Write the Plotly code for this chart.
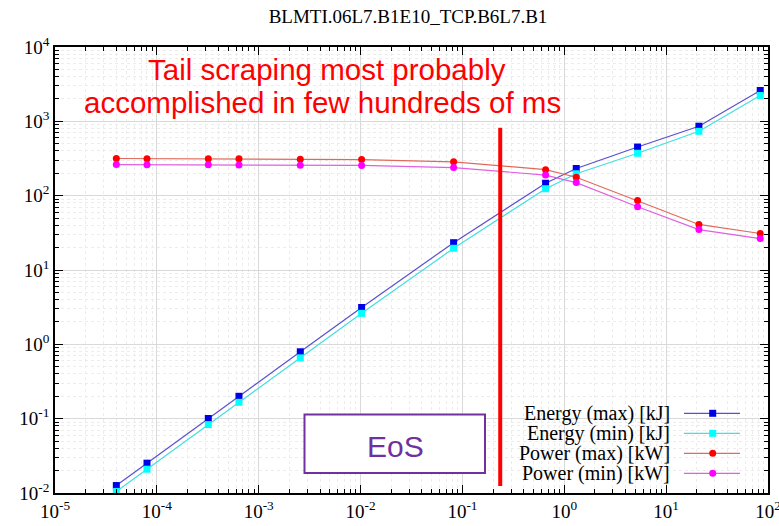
import plotly.graph_objects as go

# ---------------- data ----------------
time_s = [4e-5, 8e-5, 3.2e-4, 6.4e-4, 2.56e-3, 1.024e-2, 8.192e-2, 0.65536, 1.31072, 5.24288, 20.97152, 83.88608]
energy_max_kJ = [0.0126, 0.0252, 0.1005, 0.200, 0.794, 3.13, 23.3, 147, 232, 451, 860, 2600]
energy_min_kJ = [0.0105, 0.0209, 0.0832, 0.166, 0.658, 2.61, 19.6, 124, 197, 372, 734, 2223]
power_max_kW = [316, 315, 314, 313, 310, 306, 285, 224, 177, 86, 41, 31]
power_min_kW = [262, 261, 260, 259, 257, 255, 239, 189, 150, 71, 35, 26.5]

series_names = ["Energy (max) [kJ]", "Energy (min) [kJ]", "Power (max) [kW]", "Power (min) [kW]"]
eos_time_s = 0.235
eos_line_y = [817, 0.0124]

x_tick_vals = [1e-5, 1e-4, 1e-3, 1e-2, 1e-1, 1e0, 1e1, 1e2]
x_tick_text = ["10<sup>-5</sup>", "10<sup>-4</sup>", "10<sup>-3</sup>", "10<sup>-2</sup>",
               "10<sup>-1</sup>", "10<sup>0</sup>", "10<sup>1</sup>", "10<sup>2</sup>"]
y_tick_vals = [1e-2, 1e-1, 1e0, 1e1, 1e2, 1e3, 1e4]
y_tick_text = ["10<sup>-2</sup>", "10<sup>-1</sup>", "10<sup>0</sup>", "10<sup>1</sup>",
               "10<sup>2</sup>", "10<sup>3</sup>", "10<sup>4</sup>"]

title_text = "BLMTI.06L7.B1E10_TCP.B6L7.B1"
note_line1 = "Tail scraping most probably"
note_line2 = "accomplished in few hundreds of ms"
eos_text = "EoS"

# ---------------- styles ----------------
styles = [
    dict(line="#5a4fcf", marker="#0000e6", symbol="square"),
    dict(line="#40e0e0", marker="#00ffff", symbol="square"),
    dict(line="#e06a5a", marker="#ff0000", symbol="circle"),
    dict(line="#e060e0", marker="#ff00ff", symbol="circle"),
]
series_values = [energy_max_kJ, energy_min_kJ, power_max_kW, power_min_kW]

SERIF = "Liberation Serif, Times New Roman, serif"
SANS = "Liberation Sans, Arial, sans-serif"

fig = go.Figure()
for name, vals, st in zip(series_names, series_values, styles):
    fig.add_trace(go.Scatter(
        x=time_s, y=vals, name=name, mode="lines+markers",
        line=dict(color=st["line"], width=1.2),
        marker=dict(color=st["marker"], symbol=st["symbol"], size=7, line=dict(width=0)),
        showlegend=False,
    ))

# red vertical line
fig.add_trace(go.Scatter(
    x=[eos_time_s, eos_time_s], y=eos_line_y, mode="lines",
    line=dict(color="#ff0000", width=4), showlegend=False, hoverinfo="skip",
))

# plot area in pixels: left 55, right 768, top 47, bottom 493
L, R, T, B = 55, 768, 47, 493
W, H = R - L, B - T

def px(x):
    return (x - L) / W

def py(y):
    return (B - y) / H

shapes = []
annotations = []

# EoS box
shapes.append(dict(type="rect", xref="paper", yref="paper",
                   x0=px(304.5), x1=px(485), y0=py(473), y1=py(414.5),
                   line=dict(color="#7030a0", width=2), fillcolor="white", layer="above"))
annotations.append(dict(text=eos_text, xref="paper", yref="paper", x=px(395), y=py(446),
                        xanchor="center", yanchor="middle", showarrow=False,
                        font=dict(family=SANS, size=30, color="#7030a0")))

# red note
annotations.append(dict(text=note_line1, xref="paper", yref="paper", x=px(327), y=py(69),
                        xanchor="center", yanchor="middle", showarrow=False,
                        font=dict(family=SANS, size=29.5, color="#ff0000")))
annotations.append(dict(text=note_line2, xref="paper", yref="paper", x=px(322), y=py(102),
                        xanchor="center", yanchor="middle", showarrow=False,
                        font=dict(family=SANS, size=29.5, color="#ff0000")))

# manual legend (text left, sample right)
row_y = [413.3, 433.3, 453.3, 473.3]
for name, st, ry in zip(series_names, styles, row_y):
    annotations.append(dict(text=name, xref="paper", yref="paper", x=px(672), y=py(ry),
                            xanchor="right", yanchor="middle", showarrow=False,
                            font=dict(family=SERIF, size=20, color="black")))
    shapes.append(dict(type="line", xref="paper", yref="paper",
                       x0=px(684), x1=px(740), y0=py(ry), y1=py(ry),
                       line=dict(color=st["line"], width=1.2), layer="above"))
    shapes.append(dict(type="rect" if st["symbol"] == "square" else "circle",
                       xref="paper", yref="paper",
                       xsizemode="pixel", ysizemode="pixel",
                       xanchor=px(712.7), yanchor=py(ry),
                       x0=-3.5, x1=3.5, y0=-3.5, y1=3.5,
                       fillcolor=st["marker"], line=dict(width=0), layer="above"))

axis_common = dict(
    type="log", automargin=False, ticklabeloverflow="allow",
    showline=True, linecolor="black", linewidth=1.5, mirror="allticks",
    ticks="inside", ticklen=8, tickwidth=1, tickcolor="black",
    showgrid=True, gridcolor="#d9d9d9", gridwidth=1,
    zeroline=False,
    tickfont=dict(family=SERIF, size=19, color="black"),
    minor=dict(dtick="D1", ticks="inside", ticklen=4, tickcolor="black",
               showgrid=True, gridcolor="#ececec", griddash="dot", gridwidth=1),
)

fig.update_layout(
    width=779, height=526,
    margin=dict(l=L, r=779 - R, t=T, b=526 - B, autoexpand=False),
    paper_bgcolor="white", plot_bgcolor="white",
    title=dict(text=title_text, x=px(408), xref="paper", xanchor="center",
               y=1 - 16 / 526, yanchor="middle",
               font=dict(family=SERIF, size=19, color="black")),
    xaxis=dict(range=[-5, 2.0000001], tickmode="array", tickvals=x_tick_vals, ticktext=x_tick_text, **axis_common),
    yaxis=dict(range=[-2, 4.0000001], tickmode="array", tickvals=y_tick_vals, ticktext=y_tick_text, **axis_common),
    shapes=shapes, annotations=annotations,
    showlegend=False,
)

fig.write_html("out.html")
